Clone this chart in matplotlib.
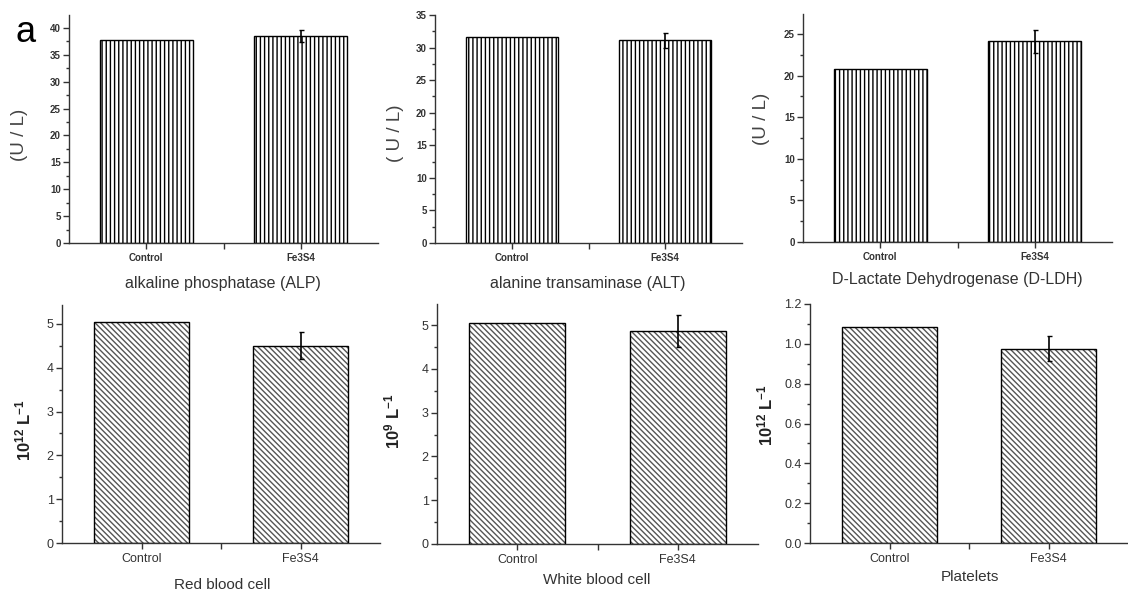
import matplotlib
matplotlib.use("Agg")
import matplotlib.pyplot as plt
from matplotlib.ticker import MultipleLocator

plt.rcParams['font.family'] = ['Liberation Sans', 'DejaVu Sans']
plt.rcParams['mathtext.default'] = 'regular'
plt.rcParams['hatch.linewidth'] = 1.0

W, H = 1128, 593

categories = ["Control", "Fe3S4"]

alp_vals = [37.7, 38.5]
alp_err = [0.0, 1.2]
alt_vals = [31.6, 31.1]
alt_err = [0.0, 1.15]
ldh_vals = [20.8, 24.1]
ldh_err = [0.0, 1.4]
rbc_vals = [5.04, 4.50]
rbc_err = [0.0, 0.31]
wbc_vals = [5.05, 4.86]
wbc_err = [0.0, 0.36]
plt_vals = [1.083, 0.976]
plt_err = [0.0, 0.061]

panels = [
    dict(vals=alp_vals, err=alp_err, box=(69, 378, 15, 243), ylim=42.4, major=5, minor=2.5,
         ylabel="(U / L)", ylab_xy=(20, 135), xlabel="alkaline phosphatase (ALP)", xlab_xy=(223, 283),
         style="top"),
    dict(vals=alt_vals, err=alt_err, box=(435, 742, 15, 243), ylim=35, major=5, minor=2.5,
         ylabel="( U / L)", ylab_xy=(395, 133), xlabel="alanine transaminase (ALT)", xlab_xy=(588, 283),
         style="top"),
    dict(vals=ldh_vals, err=ldh_err, box=(803, 1112, 14, 242), ylim=27.4, major=5, minor=2.5,
         ylabel="(U / L)", ylab_xy=(762, 119), xlabel="D-Lactate Dehydrogenase (D-LDH)", xlab_xy=(957, 280),
         style="top"),
    dict(vals=rbc_vals, err=rbc_err, box=(62, 380, 305, 543), ylim=5.43, major=1, minor=0.5,
         ylabel="10$^{12}$ L$^{-1}$", ylab_xy=(23, 430), xlabel="Red blood cell", xlab_xy=(222, 585),
         style="bottom", fmt="{:.0f}"),
    dict(vals=wbc_vals, err=wbc_err, box=(437, 758, 304, 544), ylim=5.48, major=1, minor=0.5,
         ylabel="10$^{9}$ L$^{-1}$", ylab_xy=(392, 421), xlabel="White blood cell", xlab_xy=(597, 580),
         style="bottom", fmt="{:.0f}"),
    dict(vals=plt_vals, err=plt_err, box=(810, 1128, 304, 543), ylim=1.2, major=0.2, minor=0.1,
         ylabel="10$^{12}$ L$^{-1}$", ylab_xy=(765, 415), xlabel="Platelets", xlab_xy=(970, 577),
         style="bottom", fmt="{:.1f}"),
]

fig = plt.figure(figsize=(W / 100, H / 100), dpi=100)
axis_col = '#333333'
txt_col = '#333333'

for p in panels:
    l, r, t, b = p["box"]
    ax = fig.add_axes([l / W, 1 - b / H, (r - l) / W, (b - t) / H])
    x = [1, 2]
    if p["style"] == "top":
        hatch = '||||'
        hcol = 'black'
    else:
        hatch = '\\\\\\\\\\\\'
        hcol = '#555555'
    ax.bar(x, p["vals"], width=0.6, color='white', edgecolor=hcol, hatch=hatch, linewidth=0, zorder=2)
    ax.bar(x, p["vals"], width=0.6, fill=False, edgecolor='black', linewidth=1.0, zorder=3)
    for xi, v, e in zip(x, p["vals"], p["err"]):
        if e > 0:
            ax.errorbar([xi], [v], yerr=[e], fmt='none', ecolor='black', elinewidth=1.2,
                        capsize=1.8, capthick=1.0, zorder=4)
    ax.set_xlim(0.5, 2.5)
    ax.set_ylim(0, p["ylim"])
    for s in ["top", "right"]:
        ax.spines[s].set_visible(False)
    for s in ["left", "bottom"]:
        ax.spines[s].set_color(axis_col)
        ax.spines[s].set_linewidth(1.0)
    ax.set_xticks(x)
    ax.set_xticks([1.5], minor=True)
    ax.yaxis.set_major_locator(MultipleLocator(p["major"]))
    ax.yaxis.set_minor_locator(MultipleLocator(p["minor"]))
    ax.tick_params(axis='both', which='major', direction='out', length=4, width=1, color=axis_col)
    ax.tick_params(axis='both', which='minor', direction='out', length=2.5, width=1, color=axis_col)
    ax.tick_params(axis='x', which='minor', length=4)
    if p["style"] == "top":
        ax.set_xticklabels(categories, fontsize=7, fontweight='bold', color=txt_col)
        ax.tick_params(axis='y', labelsize=7, labelcolor=txt_col, pad=2)
        for lab in ax.get_yticklabels():
            lab.set_fontweight('bold')
        ax.tick_params(axis='x', pad=3)
        fig.text(p["ylab_xy"][0] / W, 1 - p["ylab_xy"][1] / H, p["ylabel"], rotation=90,
                 ha='center', va='center', fontsize=13.5, color='#444444')
        fig.text(p["xlab_xy"][0] / W, 1 - p["xlab_xy"][1] / H, p["xlabel"],
                 ha='center', va='center', fontsize=11.5, color='#333333')
    else:
        ax.set_xticklabels(categories, fontsize=9, color=txt_col)
        ax.tick_params(axis='y', labelsize=9, labelcolor=txt_col, pad=2)
        ax.tick_params(axis='x', pad=3)
        fmt = p["fmt"]
        ax.yaxis.set_major_formatter(matplotlib.ticker.FuncFormatter(lambda v, pos, f=fmt: f.format(v)))
        fig.text(p["ylab_xy"][0] / W, 1 - p["ylab_xy"][1] / H, p["ylabel"], rotation=90,
                 ha='center', va='center', fontsize=12, fontweight='bold', color='#222222')
        fig.text(p["xlab_xy"][0] / W, 1 - p["xlab_xy"][1] / H, p["xlabel"],
                 ha='center', va='center', fontsize=11, color='#333333')

fig.text(26 / W, 1 - 32 / H, "a", ha='center', va='center', fontsize=26, color='black')

fig.savefig("out.png", dpi=100)
